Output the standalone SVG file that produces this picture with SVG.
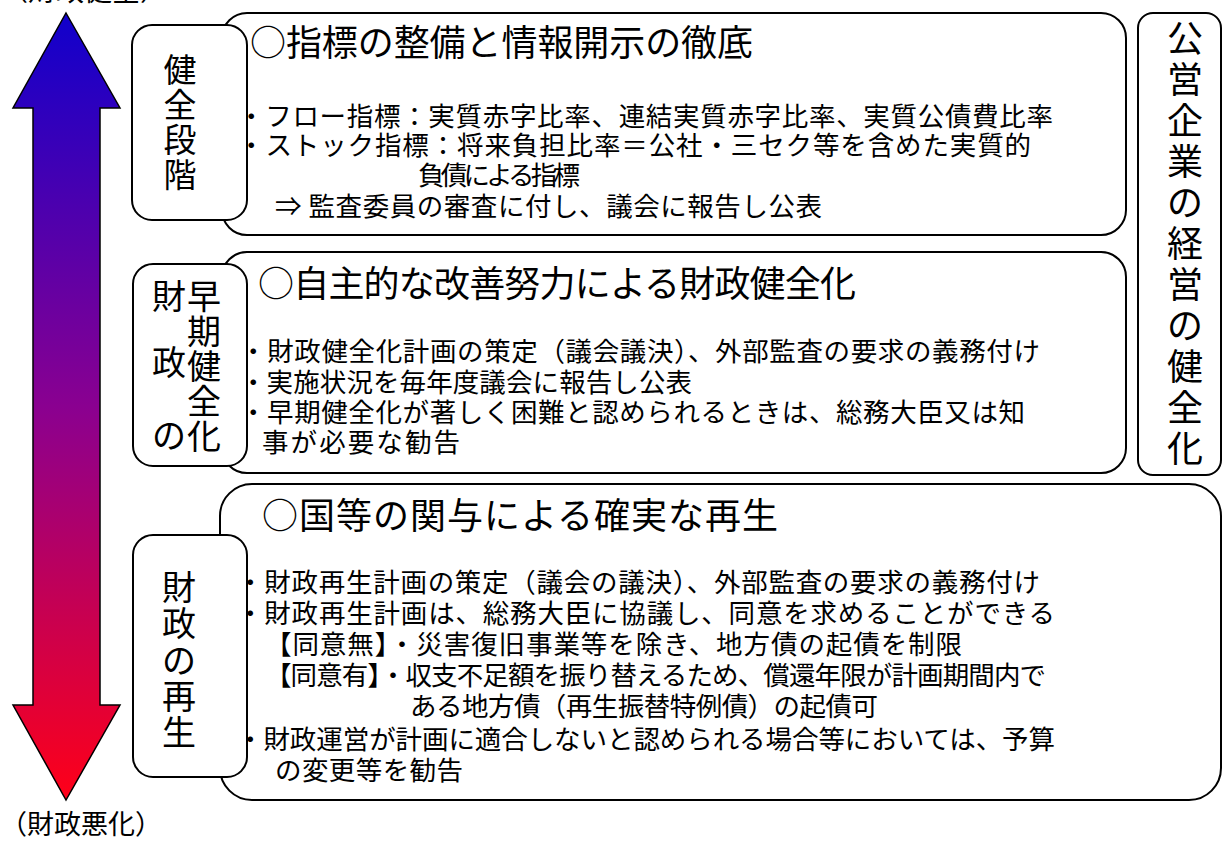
<svg xmlns="http://www.w3.org/2000/svg" width="1223" height="841" viewBox="0 0 1223 841">
<defs>
<linearGradient id="grad" x1="0" y1="0" x2="0" y2="1">
<stop offset="0" stop-color="#1000cc"/>
<stop offset="0.5" stop-color="#8a0090"/>
<stop offset="1" stop-color="#ff0018"/>
</linearGradient>
<style>
text{font-family:"Noto Sans CJK JP","Noto Sans CJK SC",sans-serif;fill:#000;}
.box{fill:#fff;stroke:#000;stroke-width:2;}
.head{font-size:36px;}
.body{font-size:26.5px;}
.vert{font-size:34px;text-anchor:middle;}
.vr{font-size:36px;text-anchor:middle;}
.lab{font-size:28px;}
</style>
</defs>
<rect width="1223" height="841" fill="#fff"/>
<g id="scale">
<polygon points="66,13 120,108 100,108 100,705 120,705 66,800 13,705 33,705 33,108 13,108" fill="url(#grad)" stroke="#000" stroke-width="1.5"/>
<text class="lab" x="0" y="1">（財政健全）</text>
<text class="lab" x="0" y="834" style="font-size:27px">（財政悪化）</text>
</g>
<g id="content1">
<rect class="box" x="222" y="13" width="904" height="222" rx="25"/>
<text class="head" x="250" y="56" textLength="503">○指標の整備と情報開示の徹底</text>
<text class="body" x="238" y="126" textLength="815">・フロー指標：実質赤字比率、連結実質赤字比率、実質公債費比率</text>
<text class="body" x="238" y="155" textLength="793">・ストック指標：将来負担比率＝公社・三セク等を含めた実質的</text>
<text class="body" x="418" y="185" textLength="162">負債による指標</text>
<text class="body" x="275" y="216" textLength="547">⇒ 監査委員の審査に付し、議会に報告し公表</text>
</g>
<g id="content2">
<rect class="box" x="222" y="252" width="904" height="221" rx="25"/>
<text class="head" x="258" y="297" textLength="598">○自主的な改善努力による財政健全化</text>
<text class="body" x="240" y="361" textLength="800">・財政健全化計画の策定（議会議決）、外部監査の要求の義務付け</text>
<text class="body" x="240" y="392" textLength="452">・実施状況を毎年度議会に報告し公表</text>
<text class="body" x="240" y="422" textLength="785">・早期健全化が著しく困難と認められるときは、総務大臣又は知</text>
<text class="body" x="262" y="452" textLength="198">事が必要な勧告</text>
</g>
<g id="content3">
<rect class="box" x="220" y="484" width="1001" height="316" rx="32"/>
<text class="head" x="262" y="529" textLength="516">○国等の関与による確実な再生</text>
<text class="body" x="237" y="592" textLength="803">・財政再生計画の策定（議会の議決）、外部監査の要求の義務付け</text>
<text class="body" x="237" y="623" textLength="818">・財政再生計画は、総務大臣に協議し、同意を求めることができる</text>
<text class="body" x="265" y="654" textLength="697">【同意無】・災害復旧事業等を除き、地方債の起債を制限</text>
<text class="body" x="265" y="685" textLength="781">【同意有】・収支不足額を振り替えるため、償還年限が計画期間内で</text>
<text class="body" x="410" y="716" textLength="468">ある地方債（再生振替特例債）の起債可</text>
<text class="body" x="237" y="749" textLength="818">・財政運営が計画に適合しないと認められる場合等においては、予算</text>
<text class="body" x="275" y="780" textLength="188">の変更等を勧告</text>
</g>
<g id="stage1">
<rect class="box" x="132" y="25" width="115" height="195" rx="20"/>
<text class="vert" style="font-size:33px"><tspan x="180" y="82">健</tspan><tspan x="180" y="117">全</tspan><tspan x="180" y="152">段</tspan><tspan x="180" y="187">階</tspan></text>
</g>
<g id="stage2">
<rect class="box" x="133" y="264" width="114" height="202" rx="20"/>
<text class="vert"><tspan x="204" y="309">早</tspan><tspan x="204" y="344">期</tspan><tspan x="204" y="379">健</tspan><tspan x="204" y="414">全</tspan><tspan x="204" y="449">化</tspan></text>
<text class="vert"><tspan x="169" y="309">財</tspan><tspan x="169" y="375">政</tspan><tspan x="169" y="448">の</tspan></text>
</g>
<g id="stage3">
<rect class="box" x="133" y="535" width="114" height="242" rx="20"/>
<text class="vert"><tspan x="179" y="600">財</tspan><tspan x="179" y="636">政</tspan><tspan x="179" y="673">の</tspan><tspan x="179" y="709">再</tspan><tspan x="179" y="745">生</tspan></text>
</g>
<g id="enterprise">
<rect class="box" x="1138" y="13" width="83" height="462" rx="15"/>
<text class="vr"><tspan x="1185" y="52">公</tspan><tspan x="1185" y="93">営</tspan><tspan x="1185" y="134">企</tspan><tspan x="1185" y="175">業</tspan><tspan x="1185" y="216">の</tspan><tspan x="1185" y="257">経</tspan><tspan x="1185" y="298">営</tspan><tspan x="1185" y="339">の</tspan><tspan x="1185" y="380">健</tspan><tspan x="1185" y="421">全</tspan><tspan x="1185" y="462">化</tspan></text>
</g>
<g id="connectors"></g>
</svg>
